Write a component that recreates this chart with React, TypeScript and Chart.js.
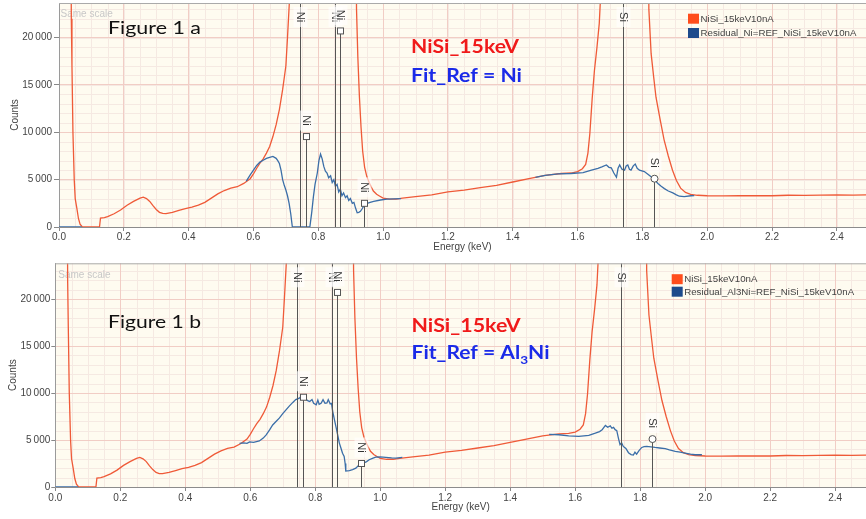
import React, { useEffect, useRef } from 'react';
import { Chart, registerables } from 'chart.js';

Chart.register(...registerables);

// ---------------- spectrum data (energy in keV, counts) ----------------
const spectrumEnergy = [
  0.034, 0.038, 0.040, 0.043, 0.047, 0.050, 0.055, 0.060, 0.065, 0.072,
  0.125, 0.128, 0.14, 0.15, 0.17, 0.19, 0.21, 0.23, 0.25, 0.26,
  0.27, 0.28, 0.29, 0.30, 0.31, 0.32, 0.33, 0.35, 0.37, 0.39,
  0.41, 0.43, 0.45, 0.47, 0.49, 0.51, 0.53, 0.55, 0.57, 0.59,
  0.60, 0.61, 0.62, 0.63, 0.64, 0.65, 0.66, 0.67, 0.68, 0.69,
  0.70, 0.705, 0.712, 0.72, 0.91, 0.918, 0.922, 0.927, 0.932, 0.937,
  0.943, 0.95, 0.957, 0.963, 0.97, 0.98, 0.99, 1.00, 1.02, 1.04,
  1.06, 1.10, 1.15, 1.20, 1.25, 1.30, 1.35, 1.40, 1.45, 1.50,
  1.55, 1.58, 1.60, 1.615, 1.625, 1.632, 1.638, 1.645, 1.652, 1.66,
  1.667, 1.672, 1.678, 1.815, 1.82, 1.827, 1.835, 1.842, 1.855, 1.867,
  1.88, 1.893, 1.905, 1.918, 1.933, 1.949, 1.97, 2.00, 2.05, 2.10,
  2.15, 2.20, 2.25, 2.30, 2.35, 2.40, 2.45, 2.50,
];
const spectrumCounts = [
  60000, 22000, 17000, 10000, 5000, 3000, 2000, 900, 300, 0,
  0, 950, 1000, 1100, 1400, 1800, 2300, 2700, 3050, 3150,
  3000, 2700, 2250, 1850, 1550, 1430, 1420, 1550, 1750, 1950,
  2100, 2300, 2600, 3050, 3500, 3850, 4100, 4250, 4600, 5100,
  5600, 6200, 6750, 7200, 7800, 8500, 9550, 10800, 12400, 14500,
  17000, 20000, 24500, 60000, 60000, 23000, 18000, 13700, 10500, 8000,
  6300, 5300, 4700, 4250, 3800, 3450, 3250, 3050, 2950, 2950,
  3050, 3200, 3400, 3700, 3900, 4150, 4400, 4750, 5100, 5450,
  5650, 5700, 5850, 6150, 6600, 7800, 9900, 13500, 16500, 19000,
  21500, 25000, 60000, 60000, 23000, 18300, 15800, 13700, 11300, 9200,
  7500, 6000, 4900, 4100, 3650, 3450, 3350, 3300, 3280, 3300,
  3320, 3300, 3350, 3330, 3360, 3380, 3370, 3400,
];

// Residual after fitting with the Ni reference (null = not computed)
const residualNiEnergy = [
  0.0, 0.07, 0.071,
  0.578, 0.59, 0.60, 0.61, 0.62, 0.63, 0.64, 0.65, 0.66, 0.67,
  0.675, 0.68, 0.685, 0.69, 0.695, 0.70, 0.705, 0.71, 0.715, 0.72,
  0.774, 0.78, 0.785, 0.79, 0.797, 0.802, 0.807, 0.812, 0.817, 0.822,
  0.827, 0.832, 0.838, 0.843, 0.848, 0.853, 0.858, 0.863, 0.868, 0.873,
  0.878, 0.884, 0.889, 0.894, 0.899, 0.905, 0.91, 0.915, 0.92, 0.925,
  0.93, 0.935, 0.94, 0.951, 0.96, 0.971, 0.992, 1.012, 1.033, 1.055, 1.056,
  1.47, 1.50, 1.54, 1.58, 1.617, 1.643, 1.663, 1.675, 1.689, 1.697,
  1.704, 1.712, 1.72, 1.725, 1.73, 1.737, 1.745, 1.75, 1.755, 1.76,
  1.765, 1.772, 1.778, 1.784, 1.791, 1.806, 1.816, 1.827, 1.838, 1.848,
  1.858, 1.868, 1.88, 1.894, 1.905, 1.914, 1.929, 1.95, 1.96,
];
const residualNiCounts = [
  0, 0, null,
  4850, 5500, 6000, 6500, 6850, 7050, 7250, 7350, 7450, 7250,
  7000, 6700, 6000, 5000, 4400, 3900, 3300, 2500, 1400, 0,
  0, 1600, 3200, 4500, 5700, 7000, 7700, 7200, 6400, 5900,
  5700, 5200, 5400, 4700, 5000, 4300, 4500, 3700, 4000, 3300,
  3600, 3100, 3300, 2800, 3000, 2500, 2600, 2000, 1500, 1550,
  1650, 1900, 2200, 2500, 2600, 2700, 2850, 2950, 2970, 3000, null,
  5250, 5450, 5600, 5650, 5750, 6000, 6200, 6350, 6550, 6300,
  6250, 5700, 5250, 6200, 6550, 6100, 6000, 6450, 6550, 6100,
  6000, 6450, 6650, 6200, 6000, 5850, 5600, 5300, 4950, 4600,
  4300, 4050, 3800, 3600, 3400, 3250, 3200, 3300, 3320,
];

// Residual after fitting with the Al3Ni reference
const residualAl3NiEnergy = [
  0.0, 0.07, 0.071,
  0.567, 0.58, 0.59, 0.598, 0.61, 0.628, 0.64, 0.649, 0.66, 0.669,
  0.68, 0.69, 0.70, 0.71, 0.72, 0.731, 0.74, 0.751, 0.757, 0.762,
  0.77, 0.778, 0.783, 0.79, 0.795, 0.803, 0.808, 0.812, 0.818, 0.824,
  0.83, 0.836, 0.84, 0.846, 0.85, 0.854, 0.86, 0.865, 0.869, 0.874,
  0.879, 0.884, 0.889, 0.892, 0.894, 0.905, 0.915, 0.925, 0.935, 0.942,
  0.95, 0.958, 0.966, 0.976, 0.986, 1.0, 1.017, 1.035, 1.048, 1.068, 1.069,
  1.52, 1.55, 1.58, 1.611, 1.642, 1.662, 1.675, 1.683, 1.693, 1.70,
  1.708, 1.713, 1.718, 1.723, 1.728, 1.733, 1.738, 1.743, 1.748, 1.756,
  1.764, 1.772, 1.779, 1.784, 1.789, 1.797, 1.805, 1.812, 1.82, 1.833,
  1.846, 1.86, 1.877, 1.89, 1.908, 1.923, 1.938, 1.955, 1.969, 1.99,
];
const residualAl3NiCounts = [
  0, 0, null,
  4650, 4700, 4650, 4800, 4750, 4900, 5200, 5550, 6100, 6600,
  7000, 7350, 7800, 8200, 8600, 9000, 9300, 9450, 9650, 9600,
  9400, 9150, 9100, 9300, 8900, 8750, 9250, 8800, 8900, 9300,
  8900, 8950, 9300, 8850, 8900, 8000, 7000, 6200, 5550, 4700,
  4150, 3600, 3250, 2500, 1700, 1750, 1850, 2000, 2350, 2400,
  2550, 2700, 2900, 3050, 3180, 3200, 3150, 3100, 3080, 3150, null,
  5600, 5560, 5450, 5380, 5490, 5730, 5900, 6090, 6550, 6350,
  6500, 6250, 6350, 6100, 6000, 5200, 4500, 4700, 4320, 4100,
  3650, 3450, 3400, 3700, 3500, 3900, 4210, 4300, 4320, 4280,
  4210, 4150, 4080, 3950, 3790, 3700, 3610, 3500, 3430, 3430,
];

// Characteristic X-ray line markers
const lineEnergies = [0.743, 0.762, 0.851, 0.868, 0.94, 1.74, 1.836];
const lineHeights = [60000, 9550, 60000, 20700, 2500, 60000, 5100];
const lineElements = ['Ni', 'Ni', 'Ni', 'Ni', 'Ni', 'Si', 'Si'];
const lineMarkers = ['none', 'square', 'none', 'square', 'square', 'none', 'circle'];

// Axis tick values
const energyTicks = [0, 0.2, 0.4, 0.6, 0.8, 1.0, 1.2, 1.4, 1.6, 1.8, 2.0, 2.2, 2.4];
const countTicks = [0, 5000, 10000, 15000, 20000];

const spectrumLabel = 'NiSi_15keV10nA';
const sampleTitle = 'NiSi_15keV';

// ---------------- styling ----------------
const ORANGE = '#ef5a38';
const BLUE = '#3b6ea8';
const LEGEND_ORANGE = '#ff4d1c';
const LEGEND_BLUE = '#1d4a8c';
const TEXT = '#444444';
const CREAM = '#fefbf0';
const MINOR = '#f5e9e2';
const MAJOR = '#f1cdc5';
const SANS = '"Liberation Sans", Arial, sans-serif';
const CALLOUT = 'Lato, "Open Sans", sans-serif';

type TextPart = { text: string; font: string; dy: number };

type PanelCfg = {
  height: number;
  padTop: number;
  yAxisWidth: number;
  xAxisHeight: number;
  xMax: number;
  yMax: number;
  yTickLength: number;
  yTickPad: number;
  yTitlePad: number;
  xTickPad: number;
  residualEnergy: number[];
  residualCounts: (number | null)[];
  residualLabel: string;
  figureLabel: string;
  figurePos: [number, number, number];
  titlePos: [number, number, number];
  refPos: [number, number, number];
  refParts: TextPart[];
  legendX: number;
  legendRows: [number, number];
  sameScalePos: [number, number];
};

const boldCallout = `bold 18.6px ${CALLOUT}`;

const panels: PanelCfg[] = [
  {
    height: 259,
    padTop: 3,
    yAxisWidth: 59,
    xAxisHeight: 32,
    xMax: 2.49,
    yMax: 23650,
    yTickLength: 5,
    yTickPad: 2,
    yTitlePad: 9,
    xTickPad: 0,
    residualEnergy: residualNiEnergy,
    residualCounts: residualNiCounts,
    residualLabel: 'Residual_Ni=REF_NiSi_15keV10nA',
    figureLabel: 'Figure 1 a',
    figurePos: [108, 34.3, 93],
    titlePos: [411, 52.7, 108],
    refPos: [411, 81.7, 111],
    refParts: [{ text: 'Fit_Ref = Ni', font: boldCallout, dy: 0 }],
    legendX: 688,
    legendRows: [18.7, 33],
    sameScalePos: [60.5, 17],
  },
  {
    height: 260,
    padTop: 4.3,
    yAxisWidth: 55.3,
    xAxisHeight: 32,
    xMax: 2.495,
    yMax: 23800,
    yTickLength: 4,
    yTickPad: 1,
    yTitlePad: 7,
    xTickPad: 1,
    residualEnergy: residualAl3NiEnergy,
    residualCounts: residualAl3NiCounts,
    residualLabel: 'Residual_Al3Ni=REF_NiSi_15keV10nA',
    figureLabel: 'Figure 1 b',
    figurePos: [108, 68.7, 93],
    titlePos: [411.5, 72.7, 109],
    refPos: [411.5, 100.3, 138],
    refParts: [
      { text: 'Fit_Ref = Al', font: boldCallout, dy: 0 },
      { text: '3', font: `bold 12px ${CALLOUT}`, dy: 4.5 },
      { text: 'Ni', font: boldCallout, dy: 0 },
    ],
    legendX: 671.7,
    legendRows: [20.2, 32.7],
    sameScalePos: [58.3, 18.6],
  },
];

function toPoints(xs: number[], ys: (number | null)[]) {
  return xs.map((x, i) => ({ x, y: ys[i] }));
}

function formatCount(v: number) {
  if (v === 0) return '0';
  const s = String(Math.round(v));
  return s.length > 3 ? `${s.slice(0, -3)}\u2009${s.slice(-3)}` : s;
}

// Draws a run of text pieces stretched horizontally to a given width.
function drawFitted(
  ctx: CanvasRenderingContext2D,
  parts: TextPart[],
  x: number,
  baseline: number,
  width: number,
  color: string
) {
  ctx.save();
  const widths = parts.map((p) => {
    ctx.font = p.font;
    return ctx.measureText(p.text).width;
  });
  const total = widths.reduce((a, b) => a + b, 0);
  ctx.translate(x, baseline);
  ctx.scale(width / total, 1);
  ctx.fillStyle = color;
  ctx.textAlign = 'left';
  ctx.textBaseline = 'alphabetic';
  let cx = 0;
  parts.forEach((p, i) => {
    ctx.font = p.font;
    ctx.fillText(p.text, cx, p.dy);
    cx += widths[i];
  });
  ctx.restore();
}

function decorPlugin(cfg: PanelCfg) {
  return {
    id: 'spectrumDecor',
    beforeDraw(chart: any) {
      const { ctx, chartArea: a, scales } = chart;
      const xs = scales.x;
      const ys = scales.y;
      ctx.save();
      ctx.fillStyle = CREAM;
      ctx.fillRect(a.left, a.top, a.right - a.left, a.bottom - a.top);
      ctx.strokeStyle = MINOR;
      ctx.lineWidth = 1;
      ctx.beginPath();
      for (let e = 0.05; e < cfg.xMax; e += 0.05) {
        const px = Math.round(xs.getPixelForValue(e)) + 0.5;
        ctx.moveTo(px, a.top);
        ctx.lineTo(px, a.bottom);
      }
      for (let c = 1000; c < cfg.yMax; c += 1000) {
        const py = Math.round(ys.getPixelForValue(c)) + 0.5;
        ctx.moveTo(a.left, py);
        ctx.lineTo(a.right, py);
      }
      ctx.stroke();
      ctx.restore();
    },
    beforeDatasetsDraw(chart: any) {
      const { ctx } = chart;
      ctx.save();
      ctx.font = `10px ${SANS}`;
      ctx.fillStyle = '#c8c8c8';
      ctx.textAlign = 'left';
      ctx.textBaseline = 'alphabetic';
      ctx.fillText('Same scale', cfg.sameScalePos[0], cfg.sameScalePos[1]);
      ctx.restore();
    },
    afterDatasetsDraw(chart: any) {
      const { ctx, chartArea: a, scales } = chart;
      const xs = scales.x;
      const ys = scales.y;
      ctx.save();
      ctx.beginPath();
      ctx.rect(a.left, a.top, a.right - a.left, a.bottom - a.top);
      ctx.clip();
      const y0 = ys.getPixelForValue(0);
      lineEnergies.forEach((e, i) => {
        const x = Math.round(xs.getPixelForValue(e)) + 0.5;
        const offScale = lineHeights[i] > ys.max;
        const yTop = offScale ? a.top : ys.getPixelForValue(lineHeights[i]);
        ctx.strokeStyle = '#555555';
        ctx.lineWidth = 1;
        ctx.beginPath();
        ctx.moveTo(x, y0);
        ctx.lineTo(x, yTop);
        ctx.stroke();
        if (!offScale) {
          ctx.fillStyle = '#ffffff';
          ctx.strokeStyle = '#555555';
          if (lineMarkers[i] === 'square') {
            ctx.fillRect(x - 3, yTop - 3, 6, 6);
            ctx.strokeRect(x - 3, yTop - 3, 6, 6);
          } else if (lineMarkers[i] === 'circle') {
            ctx.beginPath();
            ctx.arc(x, yTop, 3.5, 0, Math.PI * 2);
            ctx.fill();
            ctx.stroke();
          }
        }
        const cy = offScale ? a.top + 14 : yTop - 16;
        ctx.fillStyle = 'rgba(255,255,255,0.6)';
        ctx.fillRect(x - 7, cy - 10, 14, 20);
        ctx.save();
        ctx.translate(x, cy);
        ctx.rotate(Math.PI / 2);
        ctx.font = `11px ${SANS}`;
        ctx.fillStyle = '#333333';
        ctx.textAlign = 'center';
        ctx.textBaseline = 'middle';
        ctx.fillText(lineElements[i], 0, 0);
        ctx.restore();
      });
      ctx.restore();
    },
    afterDraw(chart: any) {
      const { ctx, chartArea: a } = chart;
      ctx.save();
      // plot frame
      ctx.strokeStyle = '#aaaaaa';
      ctx.lineWidth = 1;
      ctx.beginPath();
      ctx.moveTo(a.left, a.top + 0.5);
      ctx.lineTo(a.right, a.top + 0.5);
      ctx.stroke();

      // legend
      const labels = [spectrumLabel, cfg.residualLabel];
      const colors = [LEGEND_ORANGE, LEGEND_BLUE];
      labels.forEach((t, i) => {
        const cy = cfg.legendRows[i];
        ctx.fillStyle = colors[i];
        ctx.fillRect(cfg.legendX, cy - 5, 11, 10);
        ctx.font = `9.7px ${SANS}`;
        ctx.fillStyle = TEXT;
        ctx.textAlign = 'left';
        ctx.textBaseline = 'middle';
        ctx.fillText(t, cfg.legendX + 12.5, cy + 0.5);
      });

      // callouts
      drawFitted(ctx, [{ text: cfg.figureLabel, font: `16.5px ${CALLOUT}`, dy: 0 }],
        cfg.figurePos[0], cfg.figurePos[1], cfg.figurePos[2], '#111111');
      drawFitted(ctx, [{ text: sampleTitle, font: boldCallout, dy: 0 }],
        cfg.titlePos[0], cfg.titlePos[1], cfg.titlePos[2], '#f01a1a');
      drawFitted(ctx, cfg.refParts, cfg.refPos[0], cfg.refPos[1], cfg.refPos[2], '#1a2ae8');
      ctx.restore();
    },
  };
}

function SpectrumPanel({ cfg }: { cfg: PanelCfg }) {
  const ref = useRef<HTMLCanvasElement>(null);

  useEffect(() => {
    const canvas = ref.current;
    if (!canvas) return;
    const chart = new Chart(canvas, {
      type: 'line',
      data: {
        datasets: [
          {
            label: cfg.residualLabel,
            data: toPoints(cfg.residualEnergy, cfg.residualCounts),
            borderColor: BLUE,
            borderWidth: 1.3,
            pointRadius: 0,
            pointHoverRadius: 0,
            spanGaps: false,
            tension: 0,
          },
          {
            label: spectrumLabel,
            data: toPoints(spectrumEnergy, spectrumCounts),
            borderColor: ORANGE,
            borderWidth: 1.3,
            pointRadius: 0,
            pointHoverRadius: 0,
            tension: 0,
          },
        ],
      },
      options: {
        responsive: false,
        maintainAspectRatio: false,
        animation: false,
        events: [],
        layout: { padding: { top: cfg.padTop, right: 0, bottom: 0, left: 0 } },
        scales: {
          x: {
            type: 'linear',
            min: 0,
            max: cfg.xMax,
            afterBuildTicks: (s: any) => {
              s.ticks = energyTicks.map((value) => ({ value }));
            },
            ticks: {
              autoSkip: false,
              maxRotation: 0,
              padding: cfg.xTickPad,
              color: TEXT,
              font: { family: SANS, size: 10 },
              callback: (v: any) => Number(v).toFixed(1),
            },
            grid: { color: MAJOR, tickColor: '#888888', tickLength: 4, lineWidth: 1 },
            border: { display: true, color: '#8c8c8c', width: 1 },
            title: {
              display: true,
              text: 'Energy (keV)',
              color: TEXT,
              font: { family: SANS, size: 10 },
              padding: { top: 0, bottom: 5.5 },
            },
            afterFit: (s: any) => {
              s.height = cfg.xAxisHeight;
              s.paddingLeft = 0;
              s.paddingRight = 0;
            },
          },
          y: {
            type: 'linear',
            min: 0,
            max: cfg.yMax,
            afterBuildTicks: (s: any) => {
              s.ticks = countTicks.map((value) => ({ value }));
            },
            ticks: {
              autoSkip: false,
              padding: cfg.yTickPad,
              color: TEXT,
              font: { family: SANS, size: 10 },
              callback: (v: any) => formatCount(Number(v)),
            },
            grid: { color: MAJOR, tickColor: '#888888', tickLength: cfg.yTickLength, lineWidth: 1 },
            border: { display: true, color: '#9a9a9a', width: 1 },
            title: {
              display: true,
              text: 'Counts',
              color: TEXT,
              font: { family: SANS, size: 10 },
              padding: { top: cfg.yTitlePad, bottom: 0 },
            },
            afterFit: (s: any) => {
              s.width = cfg.yAxisWidth;
              s.paddingTop = 0;
              s.paddingBottom = 0;
            },
          },
        },
        plugins: {
          legend: { display: false },
          tooltip: { enabled: false },
        },
      } as any,
      plugins: [decorPlugin(cfg)],
    });
    return () => chart.destroy();
  }, [cfg]);

  return (
    <canvas
      ref={ref}
      width={866}
      height={cfg.height}
      style={{ display: 'block', width: 866, height: cfg.height }}
    />
  );
}

export default function App() {
  return (
    <div style={{ position: 'absolute', left: 0, top: 0, width: 866, height: 519, background: '#ffffff' }}>
      {panels.map((p, i) => (
        <SpectrumPanel key={i} cfg={p} />
      ))}
    </div>
  );
}
